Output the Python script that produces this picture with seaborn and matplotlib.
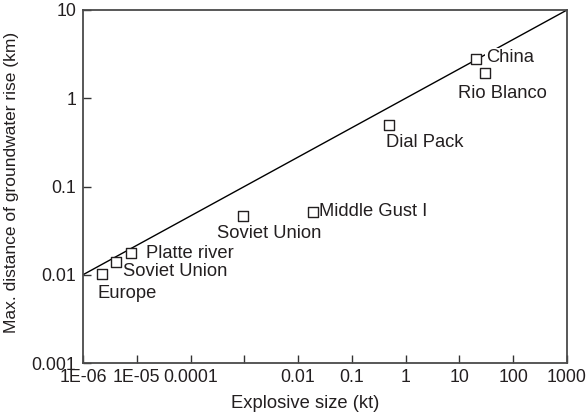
import numpy as np
import pandas as pd
import matplotlib
matplotlib.use("Agg")
import matplotlib.pyplot as plt
import seaborn as sns

# ---- data ----
events = ["China", "Rio Blanco", "Dial Pack", "Middle Gust I", "Soviet Union",
          "Platte river", "Soviet Union", "Europe"]
size_kt = [20, 30, 0.5, 0.019, 0.00095, 7.8e-6, 4.1e-6, 2.3e-6]
dist_km = [2.8, 1.95, 0.5, 0.051, 0.046, 0.0175, 0.0141, 0.0102]

line_x = [1e-6, 1000]
line_y = [0.01, 10]

xticks = [1e-6, 1e-5, 1e-4, 1e-3, 1e-2, 1e-1, 1, 10, 100, 1000]
xticklabels = ["1E-06", "1E-05", "0.0001", "", "0.01", "0.1", "1", "10", "100", "1000"]
yticks = [0.001, 0.01, 0.1, 1, 10]
yticklabels = ["0.001", "0.01", "0.1", "1", "10"]

# label offsets in pixels (style)
offsets = [(10, 1, "left"), (17, -21, "center"), (-3, -18, "left"), (6, 1, "left"),
           (-26, -17, "left"), (15, 0, "left"), (7, -10, "left"), (-5, -20, "left")]

sns.set_style("white")
plt.rcParams["font.family"] = ["Liberation Sans", "DejaVu Sans"]

W, H = 586, 416
fig, ax = plt.subplots(figsize=(W / 100, H / 100), dpi=100)
fig.subplots_adjust(left=83 / W, right=567 / W, bottom=1 - 363 / H, top=1 - 10 / H)

ink = "#231f20"
sns.lineplot(x=line_x, y=line_y, ax=ax, color="black", linewidth=1.0, zorder=2)
df = pd.DataFrame({"x": size_kt, "y": dist_km, "name": events})
sns.scatterplot(data=df, x="x", y="y", ax=ax, marker="s", s=50,
                facecolors="white", edgecolor=ink, linewidth=1.0, zorder=4)

ax.set_xscale("log")
ax.set_yscale("log")
ax.set_xlim(1e-6, 1000)
ax.set_ylim(0.001, 10)

for (name, x, y), (dx, dy, ha) in zip(zip(events, size_kt, dist_km), offsets):
    ax.annotate(name, (x, y), xytext=(dx, dy), textcoords="offset pixels",
                ha=ha, va="center", fontsize=13.2, color=ink, zorder=3,
                bbox=dict(boxstyle="square,pad=0.05", fc="white", ec="none"))

ax.set_xticks(xticks)
ax.set_xticklabels(xticklabels)
ax.set_yticks(yticks)
ax.set_yticklabels(yticklabels)
ax.minorticks_off()
ax.tick_params(axis="both", which="major", direction="in", length=5.5, width=1.0,
               color="#333333", labelsize=12.8, labelcolor=ink,
               bottom=True, left=True, top=False, right=False)
ax.tick_params(axis="x", pad=4.5)
ax.tick_params(axis="y", pad=5)

for sp in ax.spines.values():
    sp.set_color("#4a4a4a")
    sp.set_linewidth(1.3)
    sp.set_visible(True)

ax.set_xlabel("Explosive size (kt)", fontsize=13.2, color=ink)
ax.xaxis.set_label_coords((305 - 83) / 484, -(403 - 363) / 353)
ax.xaxis.label.set_va("center")
ax.set_ylabel("Max. distance of groundwater rise (km)", fontsize=12.5, color=ink)
ax.yaxis.set_label_coords(-(83 - 12) / 484, (363 - 182) / 353)
ax.yaxis.label.set_va("center")

fig.savefig("out.png", dpi=100)
